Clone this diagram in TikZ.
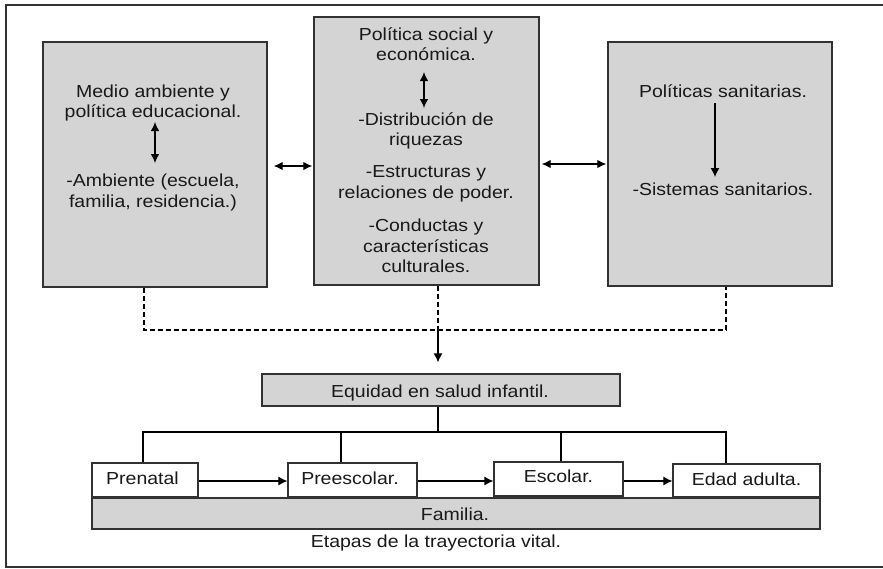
\documentclass[tikz,border=0pt]{standalone}
\usepackage{fontspec}
\setmainfont[FakeStretch=1.12]{Liberation Sans}
\usetikzlibrary{arrows.meta}
\definecolor{boxgray}{RGB}{212,212,212}
\definecolor{edge}{RGB}{50,50,50}
\tikzset{
  graybox/.style={draw=edge, line width=1.4pt, fill=boxgray, inner sep=0pt},
  whitebox/.style={draw=edge, line width=1.2pt, fill=white, inner sep=0pt},
  txt/.style={inner sep=0pt, align=center, text=black!90, font=\fontsize{17.4}{20.5}\selectfont},
  conn/.style={draw=black, line width=1.1pt},
  arr/.style={conn, -{Latex[length=9pt,width=9pt]}},
  darr/.style={conn, {Latex[length=9pt,width=8.5pt]}-{Latex[length=9pt,width=8.5pt]}},
  dashconn/.style={draw=black, line width=1.1pt, dash pattern=on 5pt off 3pt},
}
\begin{document}
\begin{tikzpicture}[x=1pt,y=-1pt]
\useasboundingbox (0,0) rectangle (883,568);
% outer frame
\draw[edge, line width=1.5pt] (890,5) -- (6,5) -- (6,567) -- (890,567);

% top boxes
\node[graybox, minimum width=224pt, minimum height=245pt] (lbox) at (155,164.5) {};
\node[graybox, minimum width=225pt, minimum height=268pt] (mbox) at (426.5,151) {};
\node[graybox, minimum width=224pt, minimum height=244pt] (rbox) at (720,164) {};

% left box texts
\node[txt] (l1) at (153,102.8) {Medio ambiente y\\política educacional.};
\node[txt] (l2) at (153,192.3) {-Ambiente (escuela,\\familia, residencia.)};
\coordinate (la) at (155,122);
\coordinate (lb) at (155,163);
\draw[darr] (la) -- (lb);

% middle box texts
\node[txt] (m1) at (426,44) {Política social y\\económica.};
\node[txt] (m2) at (426,130.8) {-Distribución de\\riquezas};
\node[txt] (m3) at (426,183.8) {-Estructuras y\\relaciones de poder.};
\node[txt] (m4) at (426,246) {-Conductas y\\características\\culturales.};
\coordinate (ma) at (424,72);
\coordinate (mb) at (424,108);
\draw[darr] (ma) -- (mb);

% right box texts
\node[txt, anchor=base] (r1) at (723,97) {Políticas sanitarias.};
\node[txt, anchor=base] (r2) at (723,195) {-Sistemas sanitarios.};
\coordinate (ra) at (715,103);
\coordinate (rb) at (715,177);
\draw[arr] (ra) -- (rb);

% arrows between top boxes
\draw[darr] ([xshift=6pt,yshift=-1.5pt]lbox.east) -- ([xshift=-1pt,yshift=-1.5pt]mbox.west |- lbox.east);
\draw[darr] ([xshift=2pt]mbox.east |- rbox.west) -- ([xshift=-1pt,yshift=0pt]rbox.west);

% dashed collector
\coordinate (dl) at (144,330);
\coordinate (dm) at (438,330);
\coordinate (dr) at (726,330);
\draw[dashconn] (lbox.south -| dl) -- (dl) -- (dr) -- (rbox.south -| dr);
\draw[dashconn] (mbox.south -| dm) -- (dm);

% equidad
\node[graybox, minimum width=358pt, minimum height=32pt] (eq) at (441,390) {};
\node[txt, anchor=base] (eqt) at (440,397) {Equidad en salud infantil.};
\draw[arr, shorten >=11pt] (dm) -- (dm |- eq.north);

% stages
\node[whitebox, minimum width=106pt, minimum height=34pt] (s1) at (145,480) {};
\node[whitebox, minimum width=129pt, minimum height=34pt] (s2) at (352.5,480) {};
\node[whitebox, minimum width=129pt, minimum height=34pt] (s3) at (558.5,479) {};
\node[whitebox, minimum width=147pt, minimum height=33pt] (s4) at (746.5,480.5) {};
\node[txt, anchor=base] (s1t) at (142.5,484) {Prenatal};
\node[txt, anchor=base] (s2t) at (350,484) {Preescolar.};
\node[txt, anchor=base] (s3t) at (558.5,482) {Escolar.};
\node[txt, anchor=base] (s4t) at (746.5,485) {Edad adulta.};

% familia
\node[graybox, minimum width=728pt, minimum height=31pt] (fam) at (456,513.5) {};
\node[txt, anchor=base] (famt) at (455,520) {Familia.};
\node[txt, anchor=base] (etapas) at (436,547) {Etapas de la trayectoria vital.};

% tree from equidad
\coordinate (tj) at (438,432);
\coordinate (t1) at (143,432);
\coordinate (t4) at (726,432);
\draw[conn] (eq.south -| tj) -- (tj);
\draw[conn] (s1.north -| t1) -- (t1) -- (t4) -- (s4.north -| t4);
\draw[conn] (s2.north -| 341,0) -- (341,432);
\draw[conn] (s3.north -| 561,0) -- (561,432);

% stage arrows
\draw[arr] (s1.east |- 0,481) -- (s2.west |- 0,481);
\draw[arr] (s2.east |- 0,481) -- (s3.west |- 0,481);
\draw[arr] (s3.east |- 0,481) -- (s4.west |- 0,481);
\end{tikzpicture}
\end{document}
